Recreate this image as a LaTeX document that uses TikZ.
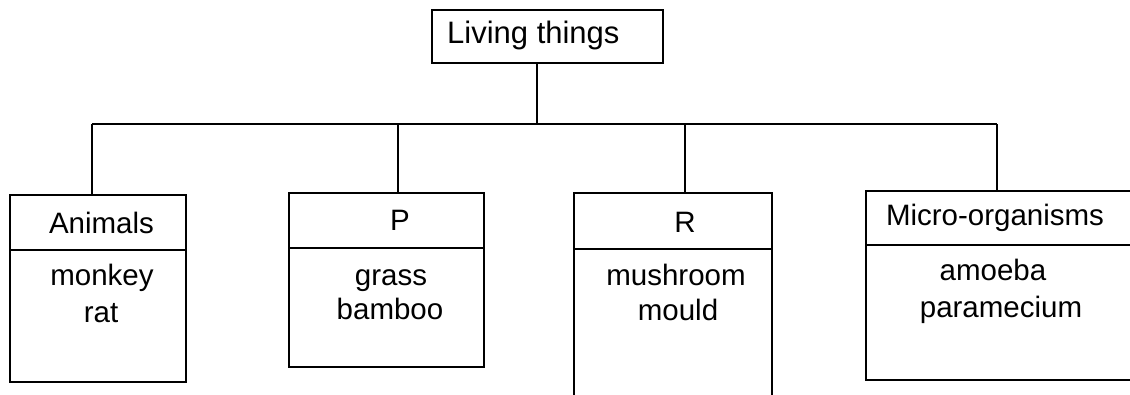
\documentclass[tikz,border=0pt]{standalone}
\usepackage{fontspec}
\setmainfont{Liberation Sans}
\begin{document}
\begin{tikzpicture}[x=1pt,y=-1pt,
  box/.style={draw,line width=1.6pt,inner sep=0pt,outer sep=0pt},
  lbl/.style={inner sep=0pt,anchor=base,font=\fontsize{29.5}{35}\selectfont},
  link/.style={line width=1.6pt}]
\useasboundingbox (0,0) rectangle (1130,394);
\fill[white] (0,0) rectangle (1130,394);
\begin{scope}
\clip (0,0) rectangle (1130,394);
% root
\node[box,minimum width=231pt,minimum height=53pt] (top) at (547.5,36.5) {};
\node[lbl,anchor=base west,font=\fontsize{31}{36}\selectfont] (toptext) at (447,43) {Living things};
% boxes
\node[box,minimum width=176pt,minimum height=187pt] (ani) at (98,288.5) {};
\node[box,minimum width=195pt,minimum height=174pt] (pla) at (386.5,280) {};
\node[box,minimum width=198pt,minimum height=211pt] (fun) at (673,298.5) {};
\node[box,minimum width=274pt,minimum height=189pt] (mic) at (1003,285.5) {};
% dividers
\coordinate (da) at (0,250);
\coordinate (dp) at (0,248);
\coordinate (dr) at (0,249);
\coordinate (dm) at (0,245);
\draw[link] (ani.west |- da) -- (ani.east |- da);
\draw[link] (pla.west |- dp) -- (pla.east |- dp);
\draw[link] (fun.west |- dr) -- (fun.east |- dr);
\draw[link] (mic.west |- dm) -- (mic.east |- dm);
% connectors
\coordinate (jt) at (537,124);
\coordinate (ja) at (92,124);
\coordinate (jp) at (398,124);
\coordinate (jr) at (685,124);
\coordinate (jm) at (997,124);
\draw[link] (jt |- top.south) -- (jt);
\draw[link] (ja) -- (jm);
\draw[link] (ja) -- (ja |- ani.north);
\draw[link] (jp) -- (jp |- pla.north);
\draw[link] (jr) -- (jr |- fun.north);
\draw[link] (jm) -- (jm |- mic.north);
% labels
\node[lbl] (ah) at (101.5,233) {Animals};
\node[lbl] (ph) at (400,230) {P};
\node[lbl] (rh) at (685,232) {R};
\node[lbl] (mh) at (995,225) {Micro-organisms};
\node[lbl] (a1) at (102,285) {monkey};
\node[lbl] (a2) at (101,322) {rat};
\node[lbl] (p1) at (391,285) {grass};
\node[lbl] (p2) at (390,319) {bamboo};
\node[lbl] (r1) at (676,285) {mushroom};
\node[lbl] (r2) at (678,320) {mould};
\node[lbl] (m1) at (993,280) {amoeba};
\node[lbl] (m2) at (1001,317) {paramecium};
\end{scope}
\end{tikzpicture}
\end{document}
